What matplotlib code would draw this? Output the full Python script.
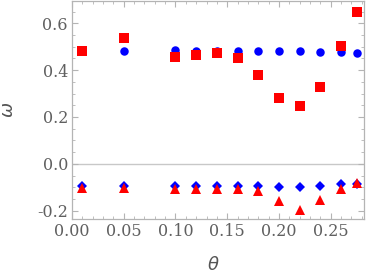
import matplotlib.pyplot as plt
from matplotlib.ticker import MultipleLocator, FormatStrFormatter

plt.rcParams['mathtext.fontset'] = 'dejavusans'

# theta values of the sampled points
theta = [0.01, 0.05, 0.10, 0.12, 0.14, 0.16, 0.18, 0.20, 0.22, 0.24, 0.26, 0.276]

# upper branch
blue_circles = [0.483, 0.483, 0.485, 0.483, 0.483, 0.482, 0.481, 0.480, 0.480, 0.479, 0.476, 0.474]
red_squares = [0.483, 0.538, 0.455, 0.465, 0.472, 0.450, 0.378, 0.282, 0.245, 0.330, 0.504, 0.649]

# lower branch
blue_diamonds = [-0.096, -0.096, -0.096, -0.096, -0.096, -0.096, -0.096, -0.097, -0.097, -0.096, -0.085, -0.088]
red_triangles = [-0.103, -0.103, -0.108, -0.106, -0.106, -0.106, -0.116, -0.160, -0.195, -0.155, -0.106, -0.082]

fig = plt.figure(figsize=(3.66, 2.77), dpi=100)
ax = fig.add_axes([0.197, 0.209, 0.798, 0.788])

ax.axhline(0, color='#c8c8c8', lw=1.0, zorder=1)

ax.plot(theta, blue_circles, 'o', color='blue', ms=6.1, mew=0, zorder=3)
ax.plot(theta, red_squares, 's', color='red', ms=6.6, mew=0, zorder=4)
ax.plot(theta, blue_diamonds, 'D', color='blue', ms=5.6, mew=0, zorder=3)
ax.plot(theta, red_triangles, '^', color='red', ms=7.6, mew=0, zorder=4)

ax.set_xlim(0, 0.2825)
ax.set_ylim(-0.236, 0.696)

ax.xaxis.set_major_locator(MultipleLocator(0.05))
ax.xaxis.set_minor_locator(MultipleLocator(0.01))
ax.yaxis.set_major_locator(MultipleLocator(0.2))
ax.yaxis.set_minor_locator(MultipleLocator(0.05))
ax.xaxis.set_major_formatter(FormatStrFormatter('%.2f'))
ax.yaxis.set_major_formatter(FormatStrFormatter('%.1f'))

for s in ax.spines.values():
    s.set_color('#b4b4b4')
    s.set_linewidth(0.9)

ax.tick_params(which='both', direction='in', top=True, right=True, color='#b4b4b4')
ax.tick_params(which='major', length=4, width=0.8, labelsize=11.5,
               labelcolor='#606060', labelfontfamily='DejaVu Serif', pad=3)
ax.tick_params(which='minor', length=2.2, width=0.6)

ax.set_xlabel(r'$\theta$', fontsize=13, color='#555555')
ax.set_ylabel(r'$\omega$', fontsize=13, color='#555555')
ax.xaxis.set_label_coords(0.485, -0.17)
ax.yaxis.set_label_coords(-0.188, 0.5)

fig.savefig('out.png', dpi=100)
